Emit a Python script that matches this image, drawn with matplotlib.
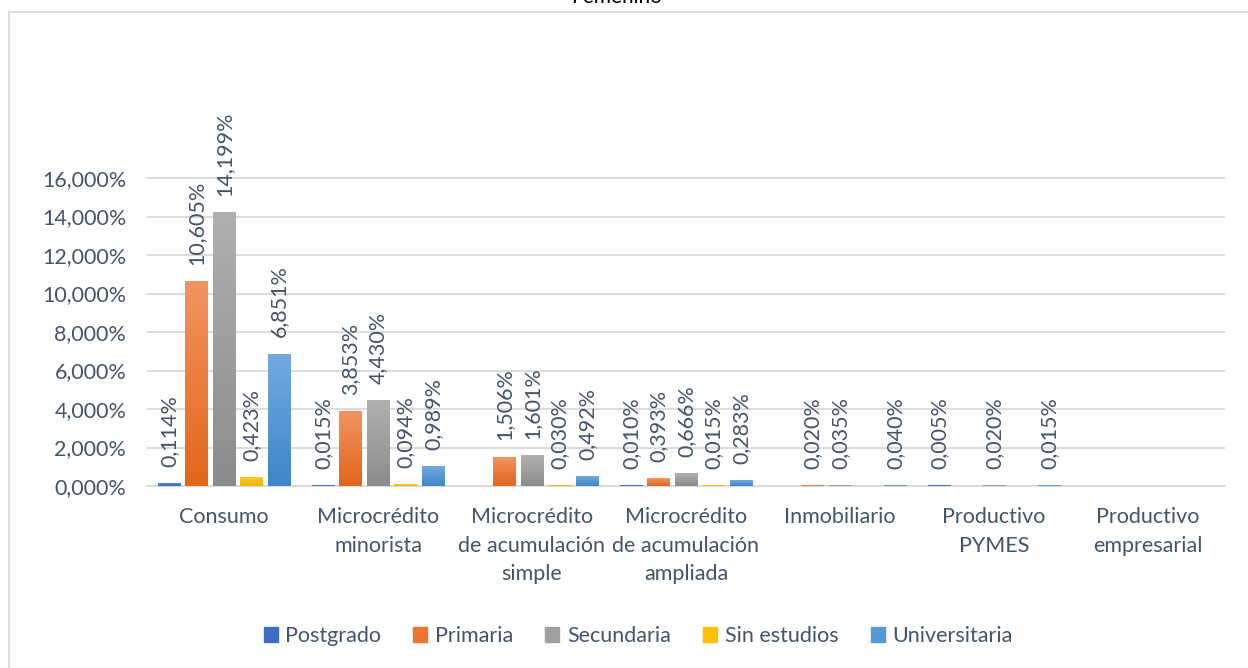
import numpy as np
import matplotlib.pyplot as plt
from matplotlib.colors import LinearSegmentedColormap
from matplotlib.patches import Rectangle

plt.rcParams['font.family'] = ['Lato', 'DejaVu Sans']

categorias = ["Consumo", "Microcrédito\nminorista", "Microcrédito\nde acumulación\nsimple",
              "Microcrédito\nde acumulación\nampliada", "Inmobiliario", "Productivo\nPYMES",
              "Productivo\nempresarial"]
series = ["Postgrado", "Primaria", "Secundaria", "Sin estudios", "Universitaria"]

# valores en %, None = sin dato
postgrado = [0.114, 0.015, None, 0.010, None, 0.005, None]
primaria = [10.605, 3.853, 1.506, 0.393, 0.020, None, None]
secundaria = [14.199, 4.430, 1.601, 0.666, 0.035, 0.020, None]
sin_estudios = [0.423, 0.094, 0.030, 0.015, None, None, None]
universitaria = [6.851, 0.989, 0.492, 0.283, 0.040, 0.015, None]
valores = [postgrado, primaria, secundaria, sin_estudios, universitaria]

# (color arriba, color abajo) para el degradado
colores = [("#5585D6", "#3A66B8"), ("#F29461", "#E2661A"), ("#B0B0B0", "#8C8C8C"),
           ("#FFCA28", "#F2B400"), ("#72AAE0", "#3F86C8")]
leyenda_col = ["#3F6BC0", "#EC7530", "#A0A0A0", "#FFC000", "#5598D8"]

W, H = 1248, 668
fig = plt.figure(figsize=(W / 100, H / 100), dpi=100)

# borde del área del gráfico
fig.patches.append(Rectangle((9 / W, -0.01), 1.1, 1 - 11.5 / H + 0.01, transform=fig.transFigure,
                             fill=False, edgecolor="#D9DDE3", linewidth=1.5))
fig.text(617 / W, 1 - 3 / H, "Femenino", ha="center", va="baseline", fontsize=15, color="#000000")

left, right, bottom, top = 147, 1225, 486, 100
ax = fig.add_axes([left / W, 1 - bottom / H, (right - left) / W, (bottom - top) / H])
ymax = (bottom - top) / 38.5 * 2

paso = 0.1786
ancho = 0.149
grad = np.linspace(1, 0, 100).reshape(-1, 1)
x = np.arange(len(categorias))
for j, (nombre, vals) in enumerate(zip(series, valores)):
    cmap = LinearSegmentedColormap.from_list(nombre, [colores[j][1], colores[j][0]])
    for i, v in enumerate(vals):
        if v is None:
            continue
        xc = x[i] + (j - 2) * paso
        ax.imshow(grad, extent=[xc - ancho / 2, xc + ancho / 2, 0, v], cmap=cmap,
                  aspect="auto", origin="upper", vmin=0, vmax=1, zorder=3)
        ax.annotate(f"{v:.3f}%".replace(".", ","), (xc, v), xytext=(0, 12), textcoords="offset points",
                    rotation=90, ha="center", va="bottom", fontsize=15.5, color="#44546A",
                    zorder=4, annotation_clip=False)
ax.set_xlim(-0.5, len(categorias) - 0.5)
ax.set_ylim(0, ymax)

ax.set_yticks(np.arange(0, 17, 2))
ax.set_yticklabels([f"{t:.3f}%".replace(".", ",") for t in np.arange(0, 17, 2)])
ax.set_xticks(x)
ax.set_xticklabels(categorias, linespacing=1.55)
ax.tick_params(axis="both", length=0, labelsize=15.5, labelcolor="#44546A")
ax.tick_params(axis="y", pad=15)
ax.tick_params(axis="x", pad=15)
ax.grid(axis="y", color="#D9D9D9", linewidth=1.3, zorder=0)
for s in ["top", "right", "left"]:
    ax.spines[s].set_visible(False)
ax.spines["bottom"].set_color("#D9D9D9")
ax.spines["bottom"].set_linewidth(1.3)

handles = [Rectangle((0, 0), 1, 1, color=c) for c in leyenda_col]
fig.legend(handles, series, loc="center", bbox_to_anchor=(638 / W, 1 - 636 / H), ncol=5,
           frameon=False, fontsize=15.5, handlelength=0.65, handleheight=0.65,
           handletextpad=0.35, columnspacing=1.5, labelcolor="#44546A")

fig.savefig("out.png", dpi=100)
